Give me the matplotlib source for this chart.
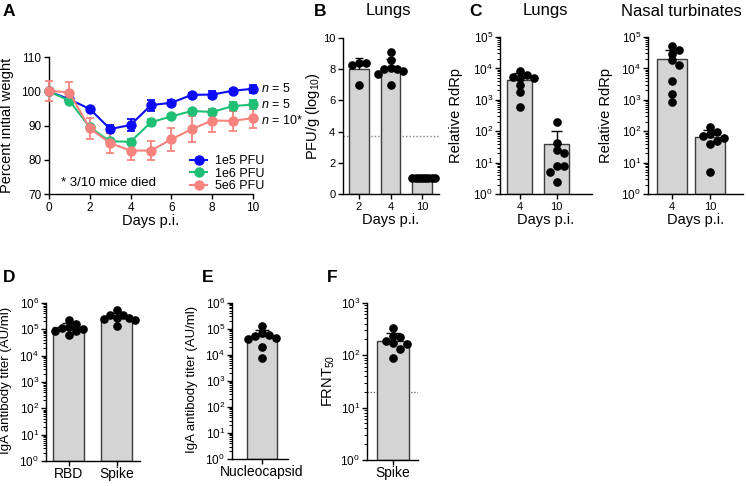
import numpy as np
import matplotlib
matplotlib.use('Agg')
import matplotlib.pyplot as plt
from matplotlib.ticker import LogLocator, NullFormatter

plt.rcParams['font.family'] = ['Liberation Sans', 'DejaVu Sans']
plt.rcParams['mathtext.fontset'] = 'custom'
plt.rcParams['mathtext.rm'] = 'Liberation Sans'
plt.rcParams['mathtext.it'] = 'Liberation Sans:italic'
plt.rcParams['mathtext.bf'] = 'Liberation Sans:bold'

# --- A: weight curves (mean, SD)
DAYS_A = [0, 1, 2, 3, 4, 5, 6, 7, 8, 9, 10]
W_1E5 = [100.0, 97.7, 94.9, 89.0, 90.2, 96.0, 96.7, 99.0, 99.1, 100.2, 100.8]
W_1E5_SD = [0.5, 0.8, 0.7, 1.2, 1.8, 1.6, 0.8, 0.6, 1.0, 0.6, 1.2]
W_1E6 = [100.0, 97.3, 89.5, 85.4, 85.3, 91.0, 92.7, 94.3, 94.0, 95.7, 96.2]
W_1E6_SD = [0.5, 0.6, 0.8, 0.8, 0.8, 1.0, 0.6, 0.7, 1.0, 1.3, 1.3]
W_5E6 = [100.2, 99.7, 89.2, 84.9, 82.7, 82.7, 86.0, 89.0, 91.5, 91.4, 92.2]
W_5E6_SD = [3.0, 3.0, 3.0, 3.0, 2.7, 2.7, 3.3, 3.8, 3.5, 3.0, 3.0]
DOSE_LABELS = ['1e5 PFU', '1e6 PFU', '5e6 PFU']
N_LABELS = ['$\\it{n}$ = 5', '$\\it{n}$ = 5', '$\\it{n}$ = 10*']

# --- B: lung titers (log10 PFU/g)
DAYS_B = ['2', '4', '10']
PFU_D2 = [8.4, 8.3, 8.4, 7.0]
PFU_D4 = [9.1, 8.6, 8.1, 8.0, 8.0, 7.9, 7.7, 7.0]
PFU_D10 = [1.0, 1.0, 1.0, 1.0, 1.0, 1.0, 1.0, 1.0]
PFU_LOD = 3.75

# --- C: relative RdRp
DAYS_C = ['4', '10']
LUNG_D4 = [8500, 6000, 5500, 5000, 5000, 3000, 1800, 600]
LUNG_D10 = [195, 42, 25, 20, 8, 8, 5, 2.4]
NASAL_D4 = [50000, 37500, 29500, 18000, 12500, 3900, 1500, 850]
NASAL_D10 = [140, 95, 80, 70, 60, 50, 40, 5]

# --- D, E, F: antibodies
D_LABELS = ['RBD', 'Spike']
IGA_RBD = [230000, 160000, 110000, 100000, 120000, 85000, 90000, 60000]
IGA_SPIKE = [550000, 350000, 340000, 250000, 230000, 260000, 130000, 280000]
E_LABELS = ['Nucleocapsid']
IGA_N = [130000, 70000, 60000, 55000, 40000, 45000, 20000, 7500]
F_LABELS = ['Spike']
FRNT_SPIKE = [325, 220, 230, 190, 165, 170, 130, 87]
FRNT_LOD = 20

W, H = 746, 486
fig = plt.figure(figsize=(W / 100, H / 100), dpi=100)

BAR_FACE = '#d4d4d4'
BAR_EDGE = '#3c3c3c'
COLORS = ['#0b0bf5', '#1fbf76', '#f7837e']


def add_ax(x0, x1, ytop, ybot):
    return fig.add_axes([x0 / W, 1 - ybot / H, (x1 - x0) / W, (ybot - ytop) / H])


def style(ax):
    ax.spines['top'].set_visible(False)
    ax.spines['right'].set_visible(False)
    for s in ('left', 'bottom'):
        ax.spines[s].set_linewidth(1.0)
    ax.tick_params(direction='out', length=3.5, width=1.0, labelsize=8, pad=2)
    ax.tick_params(which='minor', direction='out', length=2, width=0.7)


def log_axis(ax, lo, hi):
    ax.set_yscale('log')
    ax.set_ylim(lo, hi)
    ax.yaxis.set_major_locator(LogLocator(base=10, numticks=12))
    ax.yaxis.set_minor_locator(LogLocator(base=10, subs=np.arange(2, 10), numticks=12))
    ax.yaxis.set_minor_formatter(NullFormatter())
    ax.tick_params(axis='y', labelsize=8.5, pad=1.5)


def swarm(ax, x0, vals, diam=7.0, half=14.0):
    pts = ax.transData.transform([(x0, v) for v in vals])
    ys = pts[:, 1]
    order = np.argsort(-ys)
    offs = np.zeros(len(vals))
    placed = []
    for i in order:
        k = 0
        while True:
            cands = [0.0] if k == 0 else [k * diam, -k * diam]
            ok = None
            for c in cands:
                if all((c - po) ** 2 + (ys[i] - py) ** 2 >= (diam * 0.95) ** 2 for po, py in placed):
                    ok = c
                    break
            if ok is not None:
                offs[i] = ok
                placed.append((ok, ys[i]))
                break
            k += 1
    m = np.abs(offs).max()
    if m > half:
        offs = offs * half / m
    inv = ax.transData.inverted()
    return [inv.transform((pts[j, 0] + offs[j], ys[j]))[0] for j in range(len(vals))]


def bar_panel(ax, groups, labels, width, ybase):
    for i, vals in enumerate(groups):
        vals = np.asarray(vals, dtype=float)
        mean = vals.mean()
        sd = vals.std(ddof=1)
        ax.bar(i, mean - ybase, width, bottom=ybase, color=BAR_FACE,
               edgecolor=BAR_EDGE, linewidth=1.0, zorder=1)
        if sd > 0:
            cap = width * 0.22
            ax.vlines(i, mean, mean + sd, color='black', lw=1.0, zorder=2)
            ax.hlines(mean + sd, i - cap, i + cap, color='black', lw=1.0, zorder=2)
        px0 = ax.transData.transform((i - width / 2, mean))[0]
        px1 = ax.transData.transform((i + width / 2, mean))[0]
        xs = swarm(ax, i, vals, half=(px1 - px0) / 2 + 3)
        ax.plot(xs, vals, 'o', color='black', ms=5.2, zorder=3, clip_on=False)
    ax.set_xticks(range(len(groups)))
    ax.set_xticklabels(labels)


# ---------------- A
axA = add_ax(49, 253, 57.3, 194)
style(axA)
axA.tick_params(labelsize=8.5)
series = [(W_1E5, W_1E5_SD), (W_1E6, W_1E6_SD), (W_5E6, W_5E6_SD)]
handles = []
for (m, sd), c, lab in zip(series, COLORS, DOSE_LABELS):
    axA.errorbar(DAYS_A, m, yerr=sd, color=c, marker='o', ms=6.5, lw=1.5,
                 elinewidth=1.3, capsize=3, capthick=1.3, clip_on=False, zorder=3)
    h, = axA.plot([], [], color=c, marker='o', ms=6.5, lw=1.5, label=lab)
    handles.append(h)
axA.set_xlim(0, 10)
axA.set_ylim(70, 110)
axA.set_xticks([0, 2, 4, 6, 8, 10])
axA.set_yticks([70, 80, 90, 100, 110])
axA.set_xlabel('Days p.i.', fontsize=10.5, labelpad=0)
axA.set_ylabel('Percent initial weight', fontsize=10.5)
axA.yaxis.set_label_coords(-0.17, 0.5)
axA.legend(handles=handles, loc='upper left', bbox_to_anchor=(0.66, 0.33), frameon=False,
           fontsize=9, handlelength=1.4, handletextpad=0.6, labelspacing=0.05, borderpad=0)
for (m, sd), lab, dy in zip(series, N_LABELS, [0, 0, -2]):
    axA.annotate(lab, xy=(10, m[-1]), xytext=(8, dy), textcoords='offset pixels',
                 va='center', ha='left', fontsize=9)
axA.text(0.06, 0.08, '* 3/10 mice died', transform=axA.transAxes, fontsize=9.5,
         va='center', ha='left')

# ---------------- B
axB = add_ax(343, 439, 38, 194)
style(axB)
axB.set_xlim(-0.51, 2.54)
axB.set_ylim(0, 10)
axB.set_yticks([0, 2, 4, 6, 8, 10])
axB.axhline(PFU_LOD, color='#808080', lw=1.0, ls=(0, (1, 1.5)), zorder=0)
bar_panel(axB, [PFU_D2, PFU_D4, PFU_D10], DAYS_B, 0.63, 0)
axB.set_xlabel('Days p.i.', fontsize=10.5, labelpad=1)
axB.set_ylabel('PFU/g (log$_{10}$)', fontsize=10.5)
axB.yaxis.set_label_coords(-0.22, 0.5)

# ---------------- C lungs
axC1 = add_ax(500, 592, 37, 194)
style(axC1)
axC1.set_xlim(-0.53, 1.96)
log_axis(axC1, 1, 1e5)
bar_panel(axC1, [LUNG_D4, LUNG_D10], DAYS_C, 0.68, 1)
axC1.set_xlabel('Days p.i.', fontsize=10.5, labelpad=1)
axC1.set_ylabel('Relative RdRp', fontsize=10.5)
axC1.yaxis.set_label_coords(-0.40, 0.5)

# ---------------- C nasal
axC2 = add_ax(648, 743, 37, 194)
style(axC2)
axC2.set_xlim(-0.63, 1.87)
log_axis(axC2, 1, 1e5)
bar_panel(axC2, [NASAL_D4, NASAL_D10], DAYS_C, 0.79, 1)
axC2.set_xlabel('Days p.i.', fontsize=10.5, labelpad=1)
axC2.set_ylabel('Relative RdRp', fontsize=10.5)
axC2.yaxis.set_label_coords(-0.37, 0.5)

# ---------------- D
axD = add_ax(46, 140, 303, 461)
style(axD)
axD.set_xlim(-0.47, 1.49)
log_axis(axD, 1, 1e6)
bar_panel(axD, [IGA_RBD, IGA_SPIKE], D_LABELS, 0.65, 1)
axD.tick_params(axis='x', labelsize=10, pad=1)
axD.set_ylabel('IgA antibody titer (AU/ml)', fontsize=9.5)
axD.yaxis.set_label_coords(-0.36, 0.51)

# ---------------- E
axE = add_ax(232, 288, 302.7, 459)
style(axE)
axE.set_xlim(-0.625, 0.54)
log_axis(axE, 1, 1e6)
bar_panel(axE, [IGA_N], E_LABELS, 0.625, 1)
axE.tick_params(axis='x', labelsize=10, pad=1)
axE.set_ylabel('IgA antibody titer (AU/ml)', fontsize=9.5)
axE.yaxis.set_label_coords(-0.6, 0.51)

# ---------------- F
axF = add_ax(367, 418, 302.7, 460)
style(axF)
axF.set_xlim(-0.54, 0.52)
log_axis(axF, 1, 1e3)
axF.axhline(FRNT_LOD, color='#505050', lw=0.9, ls=(0, (1, 1.5)), zorder=0)
bar_panel(axF, [FRNT_SPIKE], F_LABELS, 0.667, 1)
axF.tick_params(axis='x', labelsize=10, pad=1)
axF.set_ylabel('FRNT$_{50}$', fontsize=10.5)
axF.yaxis.set_label_coords(-0.59, 0.5)

# panel letters and titles
for letter, x, y in [('A', 3, 11), ('B', 314, 11), ('C', 469, 11),
                     ('D', 3, 277), ('E', 202, 277), ('F', 327, 277)]:
    fig.text(x / W, 1 - y / H, letter, fontsize=12.5, fontweight='bold', va='center', ha='left')
for title, x in [('Lungs', 388), ('Lungs', 545), ('Nasal turbinates', 681)]:
    fig.text(x / W, 1 - 11 / H, title, fontsize=12, va='center', ha='center')

fig.savefig('out.png', dpi=100)
